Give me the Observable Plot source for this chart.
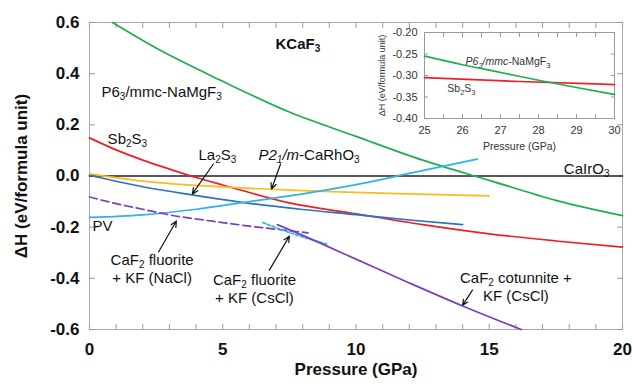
<!DOCTYPE html>
<html><head><meta charset="utf-8">
<script src="https://cdn.jsdelivr.net/npm/d3@7"></script>
<script src="https://cdn.jsdelivr.net/npm/@observablehq/plot@0.6"></script>
<style>
body{margin:0;background:#fff}
#wrap{position:relative;width:633px;height:385px;overflow:hidden}
#main{position:absolute;left:0;top:0}
#inset{position:absolute;left:360px;top:0}
</style></head><body><div id="wrap"><div id="main"></div><div id="inset"></div></div>
<script>
// ---------- data (pressure GPa, ΔH eV/formula unit) ----------
const xTicks = [0, 5, 10, 15, 20];
const xMinorTicks = [0,1,2,3,4,5,6,7,8,9,10,11,12,13,14,15,16,17,18,19,20];
const yTicks = [-0.6, -0.4, -0.2, 0, 0.2, 0.4, 0.6];
const insetXTicks = [25, 26, 27, 28, 29, 30];
const insetXMinor = [25,25.5,26,26.5,27,27.5,28,28.5,29,29.5,30];
const insetYTicks = [-0.40, -0.35, -0.30, -0.25, -0.20];

const naMgF3 = [[0.86,0.60],[2.5,0.50],[5,0.37],[7.5,0.25],[10,0.155],[12.5,0.062],[15,-0.017],[17.5,-0.095],[20,-0.155]];
const sb2s3 = [[0,0.149],[1,0.102],[2,0.062],[3,0.027],[4,-0.006],[5,-0.035],[7.5,-0.105],[10,-0.148],[12.5,-0.19],[15,-0.226],[17.5,-0.254],[20,-0.278]];
const caRhO3 = [[0,0.008],[2,-0.02],[4,-0.037],[6,-0.048],[8,-0.057],[10,-0.064],[12,-0.07],[15,-0.078]];
const la2s3 = [[0,0.003],[2,-0.042],[3.86,-0.074],[6,-0.107],[8,-0.131],[10,-0.151],[12,-0.172],[14,-0.19]];
const pv = [[0,-0.162],[2,-0.152],[4,-0.13],[6,-0.1],[8,-0.07],[10,-0.034],[12,0.01],[14.55,0.066]];
const caIrO3 = [[0,0],[20,0]];
const fluoriteNaCl = [[0,-0.082],[1,-0.108],[2,-0.13],[3,-0.152],[4,-0.168],[5,-0.182],[6,-0.196],[7,-0.208],[8.2,-0.222]];
const fluoriteCsCl = [[6.5,-0.182],[7.7,-0.228],[8.9,-0.266]];
const cotunniteCsCl = [[7.05,-0.19],[8,-0.232],[10,-0.325],[12,-0.418],[14,-0.508],[16.2,-0.6]];

const insetNaMgF3 = [[25,-0.255],[26,-0.275],[27,-0.293],[28,-0.311],[29,-0.328],[30,-0.344]];
const insetSb2S3 = [[25,-0.305],[27.5,-0.314],[30,-0.321]];

// ---------- styling ----------
const FONT = "'Liberation Sans', Arial, sans-serif";
const C = {green:"#1eae4e", red:"#ee1f26", yellow:"#fbbb1c", blue:"#2a72c4", lblue:"#2fb3e6", purple:"#7d3fb8", black:"#222"};

// rich text: *italic*, _x subscript
function parseRich(s) {
  const runs = []; let it = false;
  for (let i = 0; i < s.length; i++) {
    const c = s[i];
    if (c === "*") { it = !it; continue; }
    if (c === "_") { runs.push({t: s[i+1], it, sub: true}); i++; continue; }
    const last = runs[runs.length - 1];
    if (last && !last.sub && last.it === it) last.t += c; else runs.push({t: c, it, sub: false});
  }
  return runs;
}
function richify(svg, subSize, shift) {
  svg.querySelectorAll("text").forEach(t => {
    const spans = t.querySelectorAll("tspan");
    const targets = spans.length ? Array.from(spans) : [t];
    for (const el of targets) {
      const s = el.textContent;
      if (!/[_*]/.test(s)) continue;
      el.textContent = "";
      let shifted = false;
      for (const r of parseRich(s)) {
        const ts = document.createElementNS("http://www.w3.org/2000/svg", "tspan");
        ts.textContent = r.t;
        if (r.it) ts.setAttribute("font-style", "italic");
        if (r.sub) {
          ts.setAttribute("font-size", subSize);
          if (!shifted) { ts.setAttribute("dy", shift); shifted = true; }
        } else if (shifted) { ts.setAttribute("dy", -shift); shifted = false; }
        el.appendChild(ts);
      }
    }
  });
}

const line = (data, stroke, extra = {}) =>
  Plot.line(data, {x: d => d[0], y: d => d[1], stroke, strokeWidth: 1.7, curve: "monotone-x", ...extra});

const labelOpts = {fontSize: 15, fill: "#111", lineHeight: 1.25};

// ---------- main chart ----------
const main = Plot.plot({
  width: 633, height: 385,
  marginLeft: 89, marginRight: 11, marginTop: 22, marginBottom: 56,
  x: {domain: [0, 20]},
  y: {domain: [-0.6, 0.6]},
  style: {fontFamily: FONT, background: "white", color: "#111", overflow: "visible"},
  marks: [
    Plot.frame({stroke: "#aaa"}),
    Plot.axisX({ticks: xMinorTicks, tickSize: -5, tickFormat: () => "", stroke: "#999", label: null}),
    Plot.axisX({anchor: "top", ticks: xMinorTicks, tickSize: -5, tickFormat: () => "", stroke: "#999", label: null}),
    Plot.axisX({ticks: xTicks, tickSize: 0, tickPadding: 13, tickFormat: d => String(d), fontSize: 17, fontWeight: "bold", fill: "#111", label: null}),
    Plot.axisY({ticks: yTicks, tickSize: -6, tickFormat: () => "", stroke: "#999", label: null}),
    Plot.axisY({anchor: "right", ticks: yTicks, tickSize: -6, tickFormat: () => "", stroke: "#999", label: null}),
    Plot.axisY({ticks: yTicks, tickSize: 0, tickPadding: 10, tickFormat: d => d.toFixed(1), fontSize: 17, fontWeight: "bold", fill: "#111", label: null}),
    Plot.text(["Pressure (GPa)"], {frameAnchor: "bottom", lineAnchor: "middle", textAnchor: "middle", dy: 40, fontSize: 17, fontWeight: "bold", fill: "#111"}),
    Plot.text(["ΔH (eV/formula unit)"], {frameAnchor: "left", textAnchor: "middle", lineAnchor: "middle", dx: -68, rotate: -90, fontSize: 17, fontWeight: "bold", fill: "#111"}),

    line(caIrO3, C.black, {strokeWidth: 1.6}),
    line(naMgF3, C.green),
    line(sb2s3, C.red),
    line(caRhO3, C.yellow),
    line(la2s3, C.blue),
    line(pv, C.lblue),
    line(fluoriteNaCl, C.purple, {strokeDasharray: "8,4"}),
    line(fluoriteCsCl, C.lblue, {strokeDasharray: "3,2"}),
    line(cotunniteCsCl, C.purple),

    Plot.arrow([
      {x1: 4.65, y1: 0.047, x2: 3.86, y2: -0.07},
      {x1: 7.17, y1: 0.047, x2: 6.83, y2: -0.051},
      {x1: 2.59, y1: -0.297, x2: 3.26, y2: -0.176},
      {x1: 6.75, y1: -0.368, x2: 7.5, y2: -0.235},
      {x1: 14.37, y1: -0.446, x2: 14.0, y2: -0.505}
    ], {x1: "x1", y1: "y1", x2: "x2", y2: "y2", stroke: "#111", strokeWidth: 1.2, headLength: 8, headAngle: 50}),

    Plot.text(["KCaF_3"], {x: 6.98, y: 0.514, textAnchor: "start", fontSize: 15, fontWeight: "bold", fill: "#111"}),
    Plot.text(["P6_3/mmc-NaMgF_3"], {x: 0.45, y: 0.333, textAnchor: "start", ...labelOpts}),
    Plot.text(["Sb_2S_3"], {x: 0.68, y: 0.149, textAnchor: "start", ...labelOpts}),
    Plot.text(["La_2S_3"], {x: 4.09, y: 0.086, textAnchor: "start", ...labelOpts}),
    Plot.text(["*P2_1/m*-CaRhO_3"], {x: 6.34, y: 0.086, textAnchor: "start", ...labelOpts}),
    Plot.text(["CaIrO_3"], {x: 17.8, y: 0.031, textAnchor: "start", ...labelOpts}),
    Plot.text(["PV"], {x: 0.11, y: -0.192, textAnchor: "start", ...labelOpts}),
    Plot.text(["CaF_2 fluorite\n+ KF (NaCl)"], {x: 2.35, y: -0.36, lineAnchor: "middle", ...labelOpts}),
    Plot.text(["CaF_2 fluorite\n+ KF (CsCl)"], {x: 6.19, y: -0.438, lineAnchor: "middle", ...labelOpts}),
    Plot.text(["CaF_2 cotunnite +\nKF (CsCl)"], {x: 16.0, y: -0.43, lineAnchor: "middle", ...labelOpts})
  ]
});
richify(main, 10, 3);
document.getElementById("main").appendChild(main);

// ---------- inset ----------
const inset = Plot.plot({
  width: 273, height: 155,
  marginLeft: 64, marginRight: 19, marginTop: 32, marginBottom: 37,
  x: {domain: [25, 30]},
  y: {domain: [-0.4, -0.2]},
  style: {fontFamily: FONT, background: "transparent", color: "#333", overflow: "visible"},
  marks: [
    Plot.frame({fill: "white", stroke: "#999"}),
    Plot.axisX({ticks: insetXMinor, tickSize: -4, tickFormat: () => "", stroke: "#999", label: null}),
    Plot.axisX({anchor: "top", ticks: insetXMinor, tickSize: -4, tickFormat: () => "", stroke: "#999", label: null}),
    Plot.axisX({ticks: insetXTicks, tickSize: 0, tickPadding: 8, tickFormat: d => String(d), fontSize: 11, fill: "#333", label: null}),
    Plot.axisY({ticks: insetYTicks, tickSize: -4, tickFormat: () => "", stroke: "#999", label: null}),
    Plot.axisY({anchor: "right", ticks: insetYTicks, tickSize: -4, tickFormat: () => "", stroke: "#999", label: null}),
    Plot.axisY({ticks: insetYTicks, tickSize: 0, tickPadding: 7, tickFormat: d => d.toFixed(2), fontSize: 11, fill: "#333", label: null}),
    Plot.text(["Pressure (GPa)"], {frameAnchor: "bottom", lineAnchor: "middle", textAnchor: "middle", dy: 28, fontSize: 10.5, fill: "#333"}),
    Plot.text(["ΔH (eV/formula unit)"], {frameAnchor: "left", textAnchor: "middle", lineAnchor: "middle", dx: -42, rotate: -90, fontSize: 9, fill: "#333"}),
    line(insetSb2S3, C.red),
    line(insetNaMgF3, C.green),
    Plot.text(["*P6_3/mmc*-NaMgF_3"], {x: 26.08, y: -0.2677, textAnchor: "start", fontSize: 10.5, fill: "#333"}),
    Plot.text(["Sb_2S_3"], {x: 25.6, y: -0.330, textAnchor: "start", fontSize: 10.5, fill: "#333"})
  ]
});
richify(inset, 7.5, 3);
document.getElementById("inset").appendChild(inset);
</script></body></html>
